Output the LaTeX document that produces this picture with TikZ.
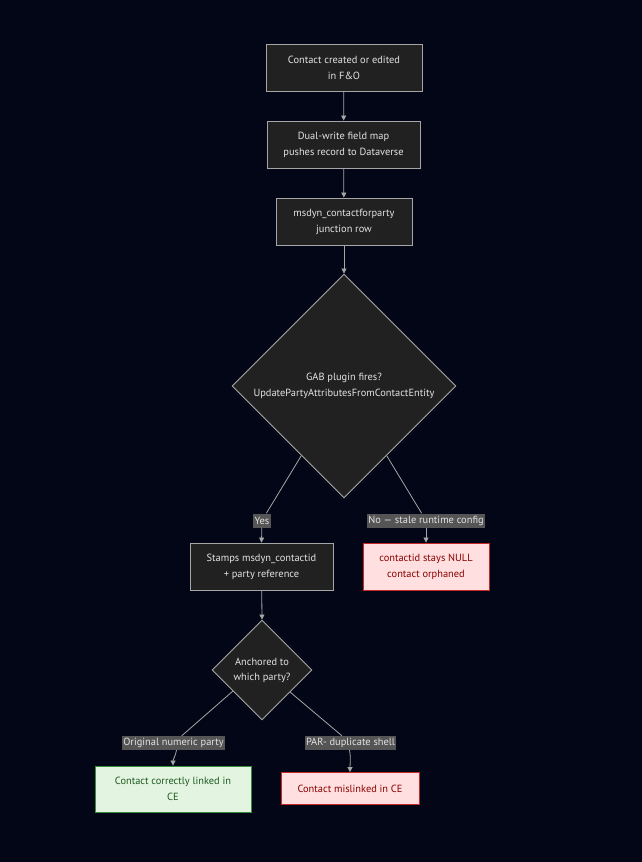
\documentclass[tikz,border=0pt]{standalone}
\usepackage{fontspec}
\setmainfont{PT Sans}
\usepackage{tikz}
\usetikzlibrary{arrows.meta,shapes.geometric,calc}
\usepackage{xcolor}
\definecolor{FlowBg}{HTML}{020617}
\definecolor{FlowBox}{HTML}{212121}
\definecolor{FlowEdge}{HTML}{A6A6A6}
\definecolor{FlowText}{HTML}{E3E3E3}
\definecolor{FlowLabel}{HTML}{555555}
\definecolor{BadFill}{HTML}{FFDFDF}
\definecolor{BadLine}{HTML}{C62828}
\definecolor{BadText}{HTML}{8B0000}
\definecolor{GoodFill}{HTML}{E3F4E1}
\definecolor{GoodLine}{HTML}{3A8B3A}
\definecolor{GoodText}{HTML}{1E5A1E}

\begin{document}
\begin{tikzpicture}[x=1pt, y=-1pt,
    font=\fontsize{10.4}{16}\selectfont,
    box/.style={draw=FlowEdge, fill=FlowBox, text=FlowText, line width=0.9pt,
      align=center, minimum height=47pt, inner sep=2pt},
    decision/.style={diamond, aspect=1, draw=FlowEdge, fill=FlowBox, text=FlowText,
      line width=0.9pt, align=center, inner sep=0pt},
    bad/.style={box, draw=BadLine, fill=BadFill, text=BadText},
    good/.style={box, draw=GoodLine, fill=GoodFill, text=GoodText},
    lbl/.style={fill=FlowLabel, text=FlowText, inner sep=1.5pt, minimum height=14pt},
    flow/.style={draw=FlowEdge, line width=0.8pt},
    arr/.style={flow, -{Triangle[length=5pt,width=5pt]}}]
  \fill[FlowBg] (0,0) rectangle (642,862);                     % page background

  % main chain
  \node[box, minimum width=156pt] (created) at (344,67.5) {Contact created or edited\\in F\&O};
  \node[box, minimum width=153pt] (dualwrite) at (343.5,144.5) {Dual-write field map\\pushes record to Dataverse};
  \node[box, minimum width=136pt] (junction) at (344,221.5) {msdyn\_contactforparty\\junction row};
  \node[decision, minimum size=224pt] (gab) at (344,386) {GAB plugin fires?\\UpdatePartyAttributesFromContactEntity};
  \node[box, minimum width=143pt] (stamps) at (261.5,566.5) {Stamps msdyn\_contactid\\+ party reference};
  \node[bad, minimum width=126pt] (orphan) at (426,566.5) {contactid stays NULL\\contact orphaned};
  \node[decision, minimum size=100pt, font=\fontsize{10.4}{15}\selectfont] (anchor) at (262,670) {Anchored to\\which party?};
  \node[good, minimum width=156pt, minimum height=46pt] (linked) at (173,789) {Contact correctly linked in\\CE};
  \node[bad, minimum width=138pt, minimum height=32pt] (mislinked) at (350,788.5) {Contact mislinked in CE};

  % edge labels
  \node[lbl] (yes) at (262,520.5) {Yes};
  \node[lbl] (no) at (426,520.5) {No — stale runtime config};
  \node[lbl] (numeric) at (173.5,743) {Original numeric party};
  \node[lbl] (par) at (350.5,743) {PAR- duplicate shell};

  \coordinate (gabL) at ($(gab.west)!0.62!(gab.south)$);
  \coordinate (gabR) at ($(gab.east)!0.62!(gab.south)$);
  \coordinate (anchorL) at ($(anchor.west)!0.42!(anchor.south)$);
  \coordinate (anchorR) at ($(anchor.east)!0.44!(anchor.south)$);

  \draw[arr] (created) -- (dualwrite);
  \draw[arr] (dualwrite) -- (junction);
  \draw[arr] (junction) -- (gab.north);
  \draw[flow] (gabL) -- (yes);  \draw[arr] (yes) -- (stamps.north);
  \draw[flow] (gabR) -- (no);   \draw[arr] (no) -- (orphan.north);
  \draw[arr] (stamps) -- (anchor.north);
  \draw[flow] (anchorL) -- (numeric);
  \draw[arr] (numeric.south) ++(3,0) to[out=-100,in=90] (linked.north);
  \draw[flow] (anchorR) -- (par);
  \draw[arr] (par.south) ++(-1,0) to[out=-80,in=90] (mislinked.north);
\end{tikzpicture}
\end{document}
